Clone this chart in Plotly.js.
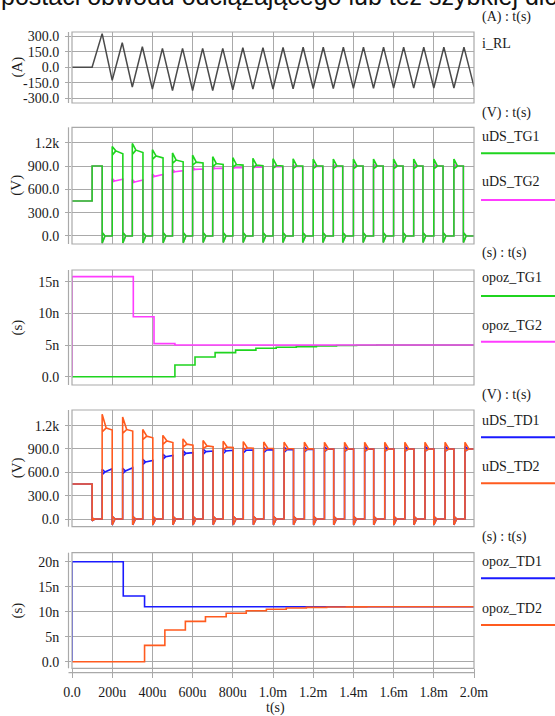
<!DOCTYPE html>
<html><head><meta charset="utf-8">
<script src="https://cdn.plot.ly/plotly-3.0.1.min.js"></script>
<style>html,body{margin:0;padding:0;background:#fff;overflow:hidden}#chart{width:555px;height:716px}</style>
</head><body><div id="chart"></div>
<script>
// ---- time axis (microseconds) ----
const xTickVals = [0,200,400,600,800,1000,1200,1400,1600,1800,2000];
const xTickText = ['0.0','200u','400u','600u','800u','1.0m','1.2m','1.4m','1.6m','1.8m','2.0m'];

// ---- panel 1: i_RL (A) ----
const iRL_t = [0,100,150,200,250,300,350,400,450,500,550,600,650,700,750,800,850,900,950,1000,1050,1100,1150,1200,1250,1300,1350,1400,1450,1500,1550,1600,1650,1700,1750,1800,1850,1900,1950,2000];
const iRL_v = [0,0,326,-127,238,-192,199,-212,183,-225,183,-225,183,-225,183,-218,189,-212,190,-210,192,-208,194,-206,194,-205,195,-204,195,-203,196,-202,196,-202,196,-201,196,-201,196,-188];

// ---- panel 2: uDS_TG1 / uDS_TG2 (V) ----
const tgPreT = [0,100,100,150];
const tg1PreV = [450,450,900,900];
const tg2PreV = [450,450,900,900];
const tgFalls = [150,253,353,453,553,652,752,851,950,1049,1148,1248,1347,1448,1548,1647,1746,1846,1947];
const tgRises = [200,300,400,500,600,700,800,900,1000,1100,1200,1300,1400,1500,1600,1700,1800,1900];
const tg1SpikeTop = [1150,1190,1110,1068,1040,1020,1007,999,995,992,990,990,990,990,990,990,990,990];
const tg1SpikeBot = [1040,1050,985,935,910,893,882,875,870,867,866,865,865,865,865,865,865,865];
const tg1Start = [1095,1105,1030,977,950,932,920,912,906,903,902,901,900,900,900,900,900,900];
const tg1End = [1058,1073,1005,954,938,921,912,904,901,900,900,900,900,900,900,900,900,900];
const tg2SpikeTop = [737,725,797,855,885,895,903,910,915,918,920,921,922,923,923,924,924,924];
const tg2SpikeBot = [695,683,755,815,847,858,867,875,880,883,885,886,887,888,888,889,889,889];
const tg2Start = [707,695,767,827,857,868,877,885,890,893,895,896,897,898,898,899,899,899];
const tg2End = [731,720,790,840,861,872,880,887,891,894,896,897,898,899,899,900,900,900];
const tgLowTop = [45,45,45,45,45,45,45,45,45,45,45,45,45,45,45,45,45,45,45];
const tgLowBot = [-92,-90,-90,-88,-88,-85,-85,-85,-85,-85,-85,-85,-85,-85,-85,-85,-85,-85,-85];

// ---- panel 3: opoz_TG1 / opoz_TG2 (ns) ----
const opTG1_t = [0,512,612,712,814,915,1016,1116,1216,1316,1416,1516,2000];
const opTG1_v = [0,1.85,3.1,3.8,4.2,4.5,4.65,4.75,4.85,4.92,4.97,5.0,5.0];
const opTG2_t = [0,0,305,408,512,2000];
const opTG2_v = [0,15.8,9.45,5.22,5.0,5.0];

// ---- panel 4: uDS_TD1 / uDS_TD2 (V) ----
const tdPreT = [0,100];
const td1PreV = [450,450];
const td2PreV = [450,450];
const tdFalls = [100,200,302,402,502,602,702,802,902,1002,1102,1202,1302,1401,1501,1601,1701,1800,1900];
const tdRises = [150,252,352,452,552,652,752,852,954,1055,1156,1256,1356,1456,1556,1656,1756,1856,1955];
const td2SpikeTop = [1346,1310,1150,1075,1030,1010,1000,995,990,988,986,985,985,985,985,985,985,985,985];
const td2SpikeBot = [1120,1100,1020,960,925,905,893,885,880,876,874,872,872,872,872,872,872,872,872];
const td2Start = [1170,1150,1065,1003,962,939,926,915,910,906,904,902,901,900,900,900,900,900,900];
const td2End = [1144,1130,1043,983,950,930,918,910,905,902,901,900,900,900,900,900,900,900,900];
const td1SpikeTop = [640,652,768,836,879,900,908,916,920,924,927,929,930,931,932,932,933,933,933];
const td1SpikeBot = [570,582,698,766,809,831,839,848,852,856,859,861,862,863,864,864,865,865,865];
const td1Start = [605,617,733,801,844,866,874,883,887,891,894,896,897,898,899,899,900,900,900];
const td1End = [645,658,752,816,853,874,883,887,891,895,897,898,899,899,900,900,900,900,900];
const tdLowTop = [10,35,35,35,35,35,35,35,35,35,35,35,35,35,35,35,35,35,35];
const tdLowBot = [-22,-75,-75,-75,-75,-75,-75,-75,-75,-75,-75,-75,-75,-75,-75,-75,-75,-75,-75];

// ---- panel 5: opoz_TD1 / opoz_TD2 (ns) ----
const opTD1_t = [0,0,255,361,2000];
const opTD1_v = [0,20,13.13,11.0,11.0];
const opTD2_t = [0,361,462,564,664,767,867,967,1066,1166,1267,1366,1466,1566,2000];
const opTD2_v = [0,3.27,6.33,8.07,9.0,9.7,10.2,10.5,10.73,10.87,10.93,10.97,10.99,11.0,11.0];

// ---- build switching waveform path (edges with ringing envelopes) ----
function switchWave(preT, preV, falls, rises, spTop, spBot, plStart, plEnd, lowTop, lowBot, wHi, wLo, tEnd){
  const xs = preT.slice(), ys = preV.slice();
  for (let i = 0; i < falls.length; i++){
    const tf = falls[i];
    xs.push(tf, tf+wLo, tf, tf+wLo); ys.push(lowBot[i], 0, lowTop[i], 0);
    if (i < rises.length){
      const tr = rises[i];
      xs.push(tr, tr, tr+wHi, tr, tr+wHi); ys.push(0, spTop[i], plStart[i], spBot[i], plStart[i]);
      const tn = (i+1 < falls.length) ? falls[i+1] : tEnd;
      xs.push(tn); ys.push(plEnd[i]);
    } else { xs.push(tEnd); ys.push(0); }
  }
  return {x: xs, y: ys};
}

const cGreen = '#1fd41f', cMag = '#ff3cff', cBlue = '#1a1aff', cOrange = '#ff5b1f', cGray = '#4a4a4a';
const gridC = '#a9a9a9';
const W = 555, H = 716, L = 72, R = 81;
const fx = px => (px - L) / (W - L - R);
const fy = py => 1 - py / H;

const tg1 = switchWave(tgPreT, tg1PreV, tgFalls, tgRises, tg1SpikeTop, tg1SpikeBot, tg1Start, tg1End, tgLowTop, tgLowBot, 18, 14, 2000);
const tg2 = switchWave(tgPreT, tg2PreV, tgFalls, tgRises, tg2SpikeTop, tg2SpikeBot, tg2Start, tg2End, tgLowTop, tgLowBot, 12, 14, 2000);
const td1 = switchWave(tdPreT, td1PreV, tdFalls, tdRises, td1SpikeTop, td1SpikeBot, td1Start, td1End, tdLowTop, tdLowBot, 14, 14, 2000);
const td2 = switchWave(tdPreT, td2PreV, tdFalls, tdRises, td2SpikeTop, td2SpikeBot, td2Start, td2End, tdLowTop, tdLowBot, 20, 14, 2000);

const lw = 1.6;
const traces = [
  {x: iRL_t, y: iRL_v, xaxis:'x', yaxis:'y', mode:'lines', line:{color:cGray, width:1.5}, name:'i_RL'},
  {x: tg2.x, y: tg2.y, xaxis:'x2', yaxis:'y2', mode:'lines', line:{color:cMag, width:lw}, name:'uDS_TG2'},
  {x: tg1.x, y: tg1.y, xaxis:'x2', yaxis:'y2', mode:'lines', line:{color:cGreen, width:lw}, name:'uDS_TG1'},
  {x: opTG1_t, y: opTG1_v, xaxis:'x3', yaxis:'y3', mode:'lines', line:{color:cGreen, width:lw, shape:'hv'}, name:'opoz_TG1'},
  {x: opTG2_t, y: opTG2_v, xaxis:'x3', yaxis:'y3', mode:'lines', line:{color:cMag, width:lw, shape:'hv'}, name:'opoz_TG2'},
  {x: td1.x, y: td1.y, xaxis:'x4', yaxis:'y4', mode:'lines', line:{color:cBlue, width:lw}, name:'uDS_TD1'},
  {x: td2.x, y: td2.y, xaxis:'x4', yaxis:'y4', mode:'lines', line:{color:cOrange, width:lw}, name:'uDS_TD2'},
  {x: opTD1_t, y: opTD1_v, xaxis:'x5', yaxis:'y5', mode:'lines', line:{color:cBlue, width:lw, shape:'hv'}, name:'opoz_TD1'},
  {x: opTD2_t, y: opTD2_v, xaxis:'x5', yaxis:'y5', mode:'lines', line:{color:cOrange, width:lw, shape:'hv'}, name:'opoz_TD2'}
];

const serif = 'Liberation Serif, Times New Roman, serif';
const tickFont = {family: serif, size: 14, color: '#1a1a1a'};
const panels = [
  {top: 32, bot: 103, range: [-346, 342], tv: [-300,-150,0,150,300], tt: ['-300.0','-150.0','0.0','150.0','300.0'], unit: '(A)'},
  {top: 127.3, bot: 244, range: [-103, 1398], tv: [0,300,600,900,1200], tt: ['0.0','300.0','600.0','900.0','1.2k'], unit: '(V)'},
  {top: 270, bot: 385, range: [-1.31, 16.84], tv: [0,5,10,15], tt: ['0.0','5n','10n','15n'], unit: '(s)'},
  {top: 410, bot: 526.7, range: [-99, 1401], tv: [0,300,600,900,1200], tt: ['0.0','300.0','600.0','900.0','1.2k'], unit: '(V)'},
  {top: 552.7, bot: 668.3, range: [-1.32, 21.8], tv: [0,5,10,15,20], tt: ['0.0','5n','10n','15n','20n'], unit: '(s)'}
];

const layout = {
  width: W, height: H, margin: {l: L, r: R, t: 0, b: 0},
  paper_bgcolor: '#fff', plot_bgcolor: '#fff', showlegend: false,
  font: {family: serif, size: 14, color: '#1a1a1a'},
  annotations: [], shapes: []
};
panels.forEach((p, i) => {
  const n = i === 0 ? '' : String(i + 1);
  const last = i === panels.length - 1;
  layout['xaxis' + n] = {
    domain: [0, 1], anchor: 'y' + n, range: [0, 2000], tickvals: xTickVals, ticktext: xTickText,
    showticklabels: last, ticks: last ? 'outside' : '', ticklen: 9, tickcolor: gridC, tickfont: tickFont,
    ticklabelstandoff: 2,
    showgrid: true, gridcolor: gridC, gridwidth: 1, zeroline: false, showline: false, fixedrange: true
  };
  layout['yaxis' + n] = {
    domain: [fy(p.bot), fy(p.top)], anchor: 'x' + n, range: p.range, tickvals: p.tv, ticktext: p.tt,
    ticks: 'outside', ticklen: 6, tickcolor: gridC, ticklabelstandoff: 3, tickfont: tickFont,
    showgrid: true, gridcolor: gridC, gridwidth: 1, zeroline: false, showline: false, fixedrange: true
  };
  const xr = 'x' + n + ' domain', yr = 'y' + n + ' domain';
  layout.shapes.push({type: 'rect', xref: xr, yref: yr, x0: 0, x1: 1, y0: 0, y1: 1, line: {color: gridC, width: 1.2}});
  layout.shapes.push({type: 'line', xref: xr, yref: yr, x0: -3.5/402, x1: -3.5/402, y0: 0, y1: 1, line: {color: gridC, width: 1.2}});
  if (last) {
    const off = -4.4 / (p.bot - p.top);
    layout.shapes.push({type: 'line', xref: xr, yref: yr, x0: -3.5/402, x1: 1, y0: off, y1: off, line: {color: gridC, width: 1.2}});
  }
  layout.annotations.push({xref: 'paper', yref: 'paper', x: fx(17), y: fy((p.top + p.bot) / 2), text: p.unit, textangle: -90,
    showarrow: false, xanchor: 'center', yanchor: 'middle', font: {family: serif, size: 15, color: '#1a1a1a'}});
});

// right-hand labels
const sideText = [
  ['(A) : t(s)', 17.5], ['i_RL', 43.3],
  ['(V) : t(s)', 112.7], ['uDS_TG1', 136.7], ['uDS_TG2', 181.7],
  ['(s) : t(s)', 253.3], ['opoz_TG1', 277.7], ['opoz_TG2', 325],
  ['(V) : t(s)', 395], ['uDS_TD1', 420], ['uDS_TD2', 466],
  ['(s) : t(s)', 537.3], ['opoz_TD1', 561.7], ['opoz_TD2', 608.3]
];
sideText.forEach(([t, py]) => layout.annotations.push({xref: 'paper', yref: 'paper', x: fx(480), y: fy(py), text: t,
  showarrow: false, xanchor: 'left', yanchor: 'middle', font: {family: serif, size: 14, color: '#1a1a1a'}}));
const sideLines = [[cGreen, 153.3], [cMag, 200], [cGreen, 296], [cMag, 341.7], [cBlue, 437.3], [cOrange, 483.3], [cBlue, 578.3], [cOrange, 625]];
sideLines.forEach(([c, py]) => layout.shapes.push({type: 'line', xref: 'paper', yref: 'paper', x0: fx(481), x1: fx(556), y0: fy(py), y1: fy(py), line: {color: c, width: 2}}));

layout.annotations.push({xref: 'paper', yref: 'paper', x: fx(275), y: fy(707.5), text: 't(s)', showarrow: false,
  xanchor: 'center', yanchor: 'middle', font: {family: serif, size: 14, color: '#1a1a1a'}});
layout.annotations.push({xref: 'paper', yref: 'paper', x: fx(-1), y: fy(-4), text: 'postaci obwodu odciążającego lub też szybkiej diody',
  showarrow: false, xanchor: 'left', yanchor: 'middle', font: {family: 'Liberation Sans, Arial, sans-serif', size: 25, color: '#111'}});

Plotly.newPlot('chart', traces, layout, {staticPlot: true, displayModeBar: false});
</script>
</body></html>
